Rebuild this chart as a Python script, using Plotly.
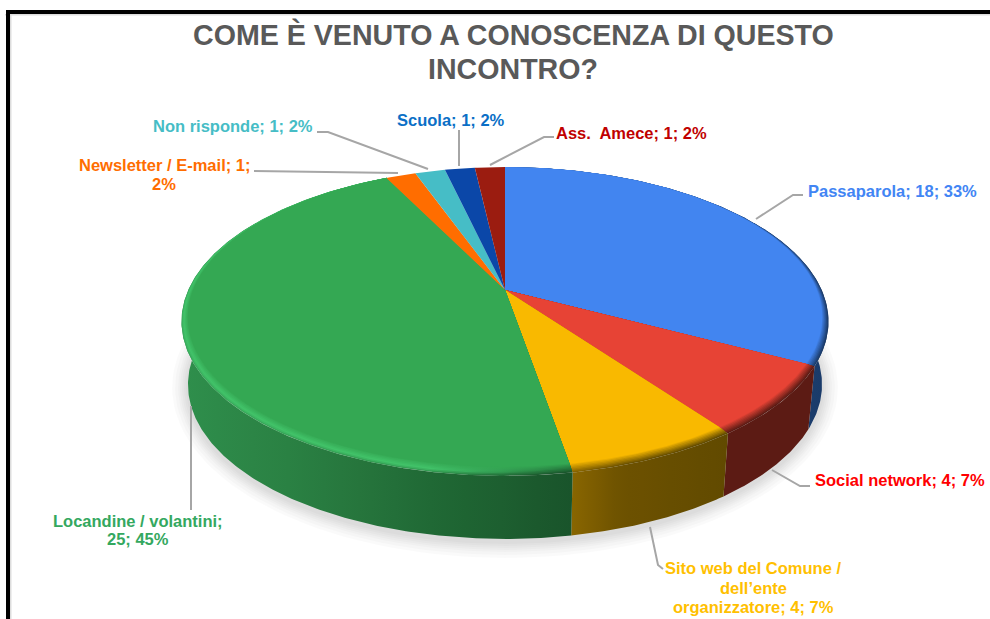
import numpy as np
import plotly.graph_objects as go

# ---- data -------------------------------------------------------------
title_lines = ["COME È VENUTO A CONOSCENZA DI QUESTO", "INCONTRO?"]
categories = ["Passaparola", "Social network", "Sito web del Comune / dell’ente organizzatore",
              "Locandine / volantini", "Newsletter / E-mail", "Non risponde", "Scuola", "Ass.  Amece"]
values = [18, 4, 4, 25, 1, 1, 1, 1]
label_lines = [["Passaparola; 18; 33%"], ["Social network; 4; 7%"],
               ["Sito web del Comune /", "dell’ente", "organizzatore; 4; 7%"],
               ["Locandine / volantini;", "25; 45%"], ["Newsletter / E-mail; 1;", "2%"],
               ["Non risponde; 1; 2%"], ["Scuola; 1; 2%"], ["Ass.  Amece; 1; 2%"]]
slice_colors = ["#4285F0", "#E74335", "#F9B900", "#34A853", "#FF6D00", "#46BDC6", "#0B47A8", "#9B1C10"]
label_colors = ["#4285F4", "#FF0000", "#FFC000", "#34A85F", "#FF6D00", "#46BDC6", "#0B6FC6", "#C00000"]

# ---- layout of the drawing -------------------------------------------
label_x = [892, 900, 753, 138, 164, 233, 451, 631]
label_y = [[191], [480], [568, 588, 607], [521, 539], [165, 184], [126], [120], [133]]
leaders = [[(756, 219), (793, 195), (803, 195)],
           [(772, 470), (800, 486), (810, 486)],
           [(650, 527), (658, 565), (663, 569)],
           [(191, 406), (191, 510)],
           [(254, 171), (398, 173)],
           [(317, 132), (328, 132), (428, 169)],
           [(459, 130), (459, 166)],
           [(490, 165), (544, 137), (554, 137)]]
side_stops = {0: [(700, "#1F4A86"), (828, "#1A3A68")],
              1: [(720, "#5C1B14"), (815, "#5C1B14")],
              2: [(570, "#8A6600"), (620, "#6D5200"), (728, "#614A00")],
              3: [(181, "#2F8F4C"), (300, "#2A7F42"), (450, "#1F6633"), (575, "#19542B")]}
CX, CY = 505, 290


def project(t, R, k, a, dy=0.0):
    r = np.radians(t)
    u, v = np.sin(r), -np.cos(r)
    w = 1 - k * v
    return CX + R * u / w, CY + dy + a * v / w


def flat(t):
    return project(t, 312, 0.18, 145)


def outer(t):
    return project(t, 316.7, 0.204, 148)


def bottom(t):
    return project(t, 316.7 * 0.98, 0.204, 148, 63)


def hex2rgb(c):
    return np.array([int(c[i:i + 2], 16) for i in (1, 3, 5)], float)


def rgb(a):
    return "rgb(%d,%d,%d)" % tuple(np.clip(a, 0, 255).round())


def lerp(a, b, f):
    return a + (b - a) * f


def side_at(i, x):
    st = side_stops[i]
    xs = [s[0] for s in st]
    cs = np.array([hex2rgb(s[1]) for s in st])
    return np.array([np.interp(x, xs, cs[:, j]) for j in range(3)])


fig = go.Figure()

# frame
fig.add_shape(type="rect", x0=5, x1=995, y0=14, y1=15.5, fillcolor="#DDDDDD", line_width=0, layer="below")
fig.add_shape(type="rect", x0=10, x1=11.5, y0=14, y1=625, fillcolor="#DDDDDD", line_width=0, layer="below")
fig.add_shape(type="rect", x0=6, x1=995, y0=10, y1=14, fillcolor="#000000", line_width=0, layer="below")
fig.add_shape(type="rect", x0=6, x1=10, y0=10, y1=625, fillcolor="#000000", line_width=0, layer="below")

# soft shadow under the disc
full = np.linspace(0, 360, 181)
for grow in [16, 13, 10, 8, 6, 4, 2]:
    bx, by = bottom(full)
    sx = CX + (bx - CX) * (1 + grow / 320)
    sy = 321 + 63 + (by - 321 - 63) * (1 + grow / 155) + 3
    fig.add_trace(go.Scatter(x=sx, y=sy, mode="lines", fill="toself", line_width=0,
                             fillcolor="rgba(0,0,0,0.018)", hoverinfo="skip", showlegend=False))

fractions = np.cumsum([0] + values) / sum(values) * 360
starts, ends = fractions[:-1], fractions[1:]


def arc(a, b):
    return np.linspace(a, b, max(4, int((b - a) * 2)))


def gradient(xa, xb, func):
    ns = np.linspace(0, 1, 12)
    return dict(type="horizontal", start=xa, stop=xb,
                colorscale=[[float(n), rgb(func(xa + (xb - xa) * n))] for n in ns])


# sides of the disc
for i in side_stops:
    a, b = max(starts[i], 60), min(ends[i], 300)
    t = arc(a, b)
    ox, oy = outer(t)
    bx, by = bottom(t)
    xs = np.r_[ox, bx[::-1]]
    ys = np.r_[oy, by[::-1]]
    fig.add_trace(go.Scatter(x=xs, y=ys, mode="lines", fill="toself", line_width=0,
                             fillgradient=gradient(xs.min(), xs.max(), lambda x, i=i: side_at(i, x)),
                             hoverinfo="skip", showlegend=False))

# top surface: bevel rings, painted outermost first, then flat face
lams = [1.0, 0.85, 0.7, 0.55, 0.4, 0.25, 0.1]
HIGH = hex2rgb("#42C46A")
for i in range(len(values)):
    t = arc(starts[i], ends[i])
    surf = hex2rgb(slice_colors[i])
    fx, fy = flat(t)
    ox, oy = outer(t)
    if i in side_stops:
        for lam in lams:
            wx = np.r_[CX, lerp(fx, ox, lam)]
            wy = np.r_[CY, lerp(fy, oy, lam)]

            def col(x, i=i, lam=lam):
                s = side_at(i, x)
                h = float(np.clip((560 - x) / 130, 0, 1)) if i == 3 else 0.0
                mid = lerp(lerp(surf, s, 0.5), HIGH, h)
                knee = 0.5 + 0.25 * h
                if lam < knee:
                    return lerp(surf, mid, lam / knee)
                return lerp(mid, s, (lam - knee) / (1 - knee) * (1 - 0.55 * h))

            fig.add_trace(go.Scatter(x=wx, y=wy, mode="lines", fill="toself", line_width=0,
                                     fillgradient=gradient(wx.min(), wx.max(), col),
                                     hoverinfo="skip", showlegend=False))
    fig.add_trace(go.Scatter(x=np.r_[CX, fx, CX], y=np.r_[CY, fy, CY], mode="lines", fill="toself",
                             line_width=0, fillcolor=slice_colors[i], name=categories[i],
                             hoverinfo="skip", showlegend=False))

# leader lines
for pts in leaders:
    fig.add_trace(go.Scatter(x=[p[0] for p in pts], y=[p[1] for p in pts], mode="lines",
                             line=dict(color="#A6A6A6", width=2), hoverinfo="skip", showlegend=False))

# labels
for i, lines in enumerate(label_lines):
    for txt, yy in zip(lines, label_y[i]):
        fig.add_annotation(x=label_x[i], y=yy, text="<b>%s</b>" % txt, showarrow=False, align="center",
                           xanchor="center", yanchor="middle",
                           font=dict(family="Liberation Sans", size=16.5, color=label_colors[i]))

for txt, yy in zip(title_lines, [34, 69]):
    fig.add_annotation(x=513, y=yy, text="<b>%s</b>" % txt, showarrow=False, align="center",
                       xanchor="center", yanchor="middle",
                       font=dict(family="Liberation Sans", size=28.6, color="#595959"))

fig.update_layout(width=990, height=619, margin=dict(l=0, r=0, t=0, b=0), paper_bgcolor="white",
                  plot_bgcolor="white", showlegend=False,
                  xaxis=dict(range=[0, 990], visible=False, fixedrange=True),
                  yaxis=dict(range=[619, 0], visible=False, fixedrange=True))

fig.write_html("out.html", config={"displayModeBar": False},
               post_script="document.body.style.margin='0';document.body.style.overflow='hidden';")
